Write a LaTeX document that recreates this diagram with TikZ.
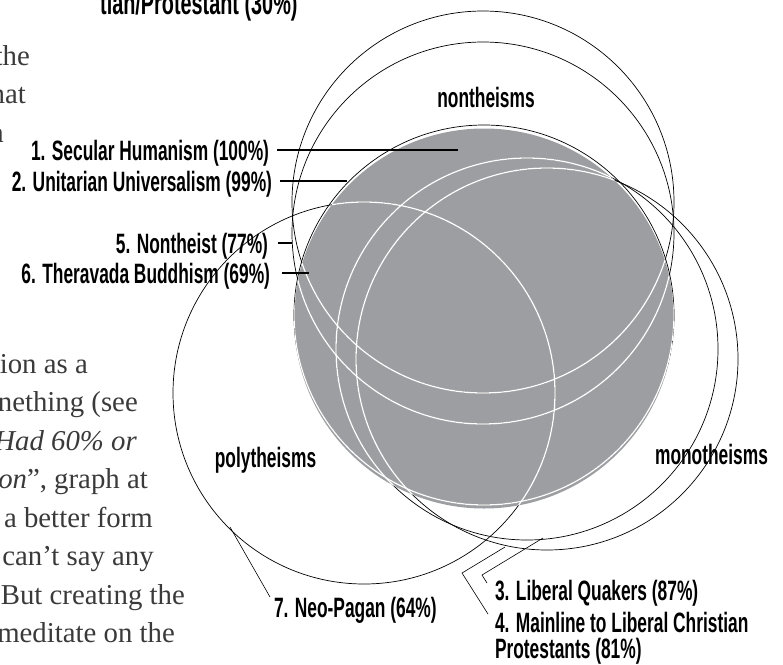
\documentclass[tikz,border=0pt]{standalone}
\usepackage{fontspec}
\newfontfamily\labelfont[FakeStretch=0.62]{Liberation Sans}
\newfontfamily\bodyfont{Liberation Serif}
\usetikzlibrary{calc}

\definecolor{discgray}{RGB}{157,158,162}
\definecolor{bodygray}{RGB}{58,58,58}

\begin{document}
\begin{tikzpicture}[x=1pt, y=-1pt,
  ring/.style={draw=black, line width=0.7pt},
  ringin/.style={draw=white, line width=1.3pt},
  lbl/.style={font=\labelfont\bfseries\fontsize{28}{26}\selectfont, inner sep=0pt,
    text height=20pt, text depth=0pt, outer sep=8pt},
  lbllow/.style={font=\labelfont\bfseries\fontsize{28}{26}\selectfont, inner sep=0pt,
    outer sep=0pt, anchor=north west, align=left},
  region/.style={font=\labelfont\bfseries\fontsize{28}{26}\selectfont, inner sep=0pt, anchor=base},
  leader/.style={line width=1.1pt},
  thinleader/.style={line width=0.6pt},
  body/.style={font=\bodyfont\fontsize{28.8}{38.5}\selectfont, text=bodygray, inner sep=0pt, anchor=base east}]

  \useasboundingbox (0, 0) rectangle (783, 664);
  \clip (0, 0) rectangle (783, 664);

  % circle centres
  \coordinate (sh) at (484, 318.5);
  \coordinate (uu) at (484, 315);
  \coordinate (th) at (483, 202);
  \coordinate (nt) at (483, 233);
  \coordinate (lq) at (527, 349);
  \coordinate (ml) at (547, 359);
  \coordinate (np) at (364, 393);

  % Secular Humanism disc
  \fill[discgray] (sh) circle[radius=190pt];

  % the other circles, black outside the disc
  \foreach \c/\r in {uu/190, th/191, nt/191, lq/191, ml/191, np/191}
    \draw[ring] (\c) circle[radius=\r pt];

  % and white inside it
  \begin{scope}
    \clip (sh) circle[radius=190pt];
    \foreach \c/\r in {uu/190, th/191, nt/191, lq/191, ml/191, np/191}
      \draw[ringin] (\c) circle[radius=\r pt];
  \end{scope}

  % group names
  \node (nonth) at (486, 107) [region] {nontheisms};
  \node (polyth) at (265.5, 467) [region] {polytheisms};
  \node (monoth) at (711.5, 464) [region] {monotheisms};

  % labels on the left
  \node (l1) at (277, 150) [lbl, anchor=east] {1. Secular Humanism (100\%)};
  \node (l2) at (280, 181) [lbl, anchor=east] {2. Unitarian Universalism (99\%)};
  \node (l5) at (278, 243) [lbl, anchor=east, outer sep=10pt] {5. Nontheist (77\%)};
  \node (l6) at (282, 273) [lbl, anchor=east, outer sep=12pt] {6. Theravada Buddhism (69\%)};

  \coordinate (e1) at (458, 150);
  \coordinate (e2) at (347, 181);
  \coordinate (e5) at (292, 243);
  \coordinate (e6) at (309, 273);

  \draw[leader] (l1.east) -- (e1);
  \draw[leader] (l2.east) -- (e2);
  \draw[leader] (l5.east) -- (e5);
  \draw[leader] (l6.east) -- (e6);

  % labels below
  \node (l7) at (274, 597) [lbllow] {7. Neo-Pagan (64\%)};
  \node (l3) at (495, 580) [lbllow] {3. Liberal Quakers (87\%)};
  \node (l4) at (495, 612) [lbllow] {4. Mainline to Liberal Christian\\Protestants (81\%)};

  \coordinate (e7) at (230, 527);
  \coordinate (k3) at (482, 575);
  \coordinate (e3) at (543, 538);
  \coordinate (k4) at (462, 573);
  \coordinate (e4) at (505, 547);

  \draw[thinleader] ($(l7.north west)+(-4, 0)$) -- (e7);
  \draw[thinleader] ($(l3.north west)+(-8, 3)$) -- (k3) -- (e3);
  \draw[thinleader] ($(l4.north west)+(-7, 2)$) -- (k4) -- (e4);

  % cut-off label at the top
  \node (top) at (100, 14) [region, anchor=base west, font=\labelfont\bfseries\fontsize{32}{30}\selectfont] {tian/Protestant (30\%)};

  % body text of the page, cut at the left edge
  \node (b1) at (30, 65) [body] {the};
  \node (b2) at (26, 103.5) [body] {hat};
  \node (b3) at (4, 142) [body] {n};
  \node (b4) at (88, 373) [body] {ion as a};
  \node (b5) at (138, 411.5) [body] {nething (see};
  \node (b6) at (137, 450) [body] {\textit{Had 60\% or}};
  \node (b7) at (148, 488.5) [body] {\textit{on}”, graph at};
  \node (b8) at (153, 527) [body] {a better form};
  \node (b9) at (154, 565.5) [body] {can’t say any};
  \node (b10) at (185, 604) [body] {But creating the};
  \node (b11) at (175, 642.5) [body] {meditate on the};

\end{tikzpicture}
\end{document}
